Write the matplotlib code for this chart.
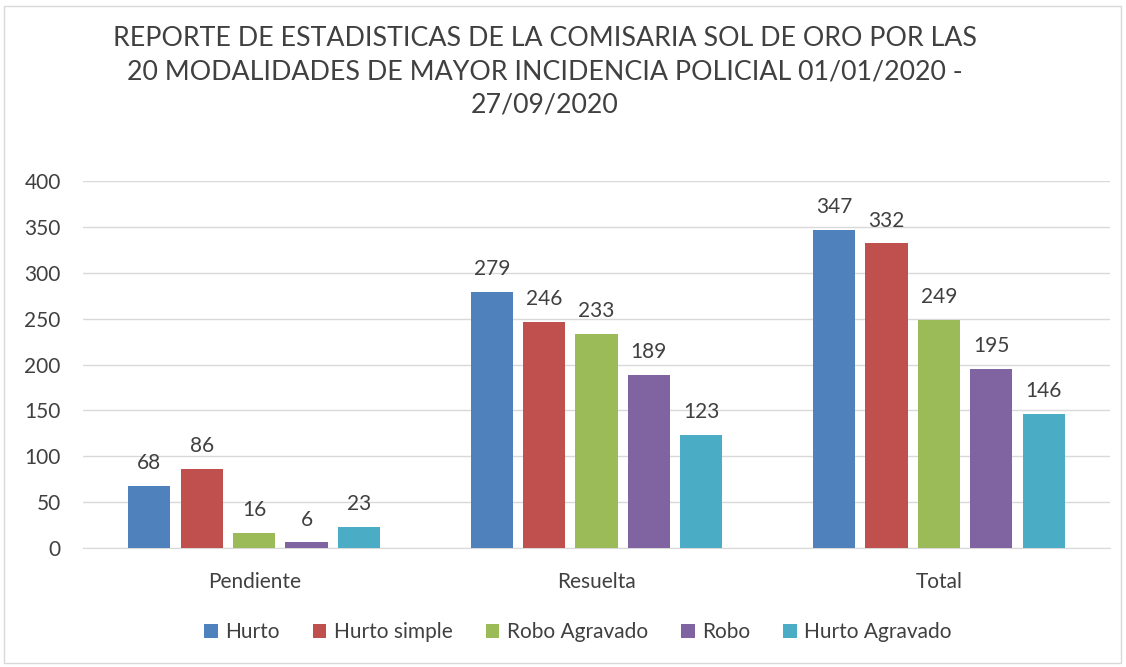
import matplotlib.pyplot as plt
import numpy as np
from matplotlib.patches import Rectangle

plt.rcParams['font.family'] = ['Lato', 'DejaVu Sans']

categorias = ["Pendiente", "Resuelta", "Total"]
series = ["Hurto", "Hurto simple", "Robo Agravado", "Robo", "Hurto Agravado"]
hurto = [68, 279, 347]
hurto_simple = [86, 246, 332]
robo_agravado = [16, 233, 249]
robo = [6, 189, 195]
hurto_agravado = [23, 123, 146]
colores = ["#4F81BD", "#C0504D", "#9BBB59", "#8064A2", "#4BACC6"]

valores = [hurto, hurto_simple, robo_agravado, robo, hurto_agravado]

fig = plt.figure(figsize=(11.26, 6.67), dpi=100)
ax = fig.add_axes([83/1126, 1-548/667, 1027/1126, (548-181)/667])

x = np.arange(len(categorias))
ancho = 0.123
paso = 0.153
for i, (nombre, vals, c) in enumerate(zip(series, valores, colores)):
    pos = x + (i - 2) * paso
    barras = ax.bar(pos, vals, width=ancho, color=c, label=nombre, zorder=3)
    for b, v in zip(barras, vals):
        ax.text(b.get_x() + b.get_width()/2, v + 14, str(v), ha='center', va='bottom',
                fontsize=15, color='#404040')

ax.set_xlim(-0.5, 2.5)
ax.set_ylim(0, 400)
ax.set_yticks(range(0, 401, 50))
ax.set_xticks(x)
ax.set_xticklabels(categorias)
ax.grid(axis='y', color='#D9D9D9', linewidth=1, zorder=0)
for s in ['top', 'right', 'left']:
    ax.spines[s].set_visible(False)
ax.spines['bottom'].set_color('#D9D9D9')
ax.tick_params(axis='both', length=0, labelsize=15, colors='#404040')
ax.tick_params(axis='x', pad=17)
ax.tick_params(axis='y', pad=16)

fig.text(545/1126, 1-72/667,
         "REPORTE DE ESTADISTICAS DE LA COMISARIA SOL DE ORO POR LAS\n"
         "20 MODALIDADES DE MAYOR INCIDENCIA POLICIAL 01/01/2020 -\n27/09/2020",
         ha='center', va='center', fontsize=19.3, color='#404040', linespacing=1.4)

fig.legend(loc='center', bbox_to_anchor=(578/1126, 1-632/667), ncol=5, frameon=False,
           fontsize=15, handlelength=0.65, handleheight=0.65, columnspacing=1.6,
           handletextpad=0.35, labelcolor='#404040')

fig.patches.append(Rectangle((4/1126, 4/667), 1117/1126, 657/667, transform=fig.transFigure,
                             fill=False, edgecolor='#D9D9D9', linewidth=1))

fig.savefig("out.png", dpi=100)
